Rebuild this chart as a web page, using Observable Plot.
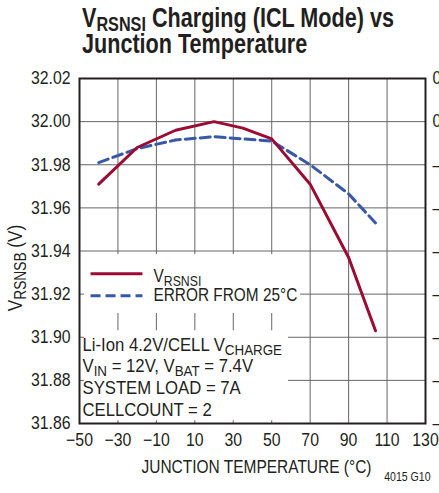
<!DOCTYPE html>
<html><head><meta charset="utf-8">
<script src="https://cdn.jsdelivr.net/npm/d3@7"></script>
<script src="https://cdn.jsdelivr.net/npm/@observablehq/plot@0.6"></script>
<style>
html,body{margin:0;padding:0;background:#fff;overflow:hidden;width:439px;height:493px}
#title{height:60px;box-sizing:border-box;padding:5px 0 0 82px;white-space:nowrap;overflow:hidden}
#title span{display:inline-block;font-family:"Liberation Sans",Arial,sans-serif;font-weight:bold;font-size:27px;line-height:26px;color:#231f20;transform:scaleX(0.8);transform-origin:0 0}
#title sub{font-size:75%;vertical-align:-0.22em;line-height:0}
#chart svg{display:block;overflow:hidden}
</style></head>
<body>
<div id="title"><span>V<sub>RSNSI</sub> Charging (ICL Mode) vs<br>Junction Temperature</span></div>
<div id="chart"></div>
<script>
const FONT = '"Liberation Sans",Arial,sans-serif';
const INK = "#231f20";
const NARROW = 0.88;
// data
const tempC = [-40, -20, 0, 20, 35, 50, 70, 90, 104];
const vRsnsi = [31.971, 31.988, 31.996, 32.000, 31.997, 31.992, 31.971, 31.937, 31.903];
const errorFrom25 = [31.981, 31.9875, 31.9915, 31.993, 31.992, 31.991, 31.980, 31.9665, 31.953];
const xTicks = [-50, -30, -10, 10, 30, 50, 70, 90, 110, 130];
const xGrid = [-30, -10, 10, 30, 50, 70, 90, 110];
const yTicks = [31.86, 31.88, 31.90, 31.92, 31.94, 31.96, 31.98, 32.00, 32.02];
const yGrid = [31.88, 31.90, 31.92, 31.94, 31.96, 31.98, 32.00];
const rightTickLabels = ["–0.35", "–0.30", "–0.25", "–0.20", "–0.15", "–0.10", "–0.05", "0", "0.05"];
const seriesNames = ["V_{RSNSI}", "ERROR FROM 25°C"];
const conditions = ["Li-Ion 4.2V/CELL V_{CHARGE}", "V_{IN} = 12V, V_{BAT} = 7.4V", "SYSTEM LOAD = 7A", "CELLCOUNT = 2"];

const RED = "#9b0b33", BLUE = "#3a58a8";
const rows = tempC.map((t, i) => ({t, v: vRsnsi[i], e: errorFrom25[i]}));

// white areas behind the legend and the condition text (data coords)
const masks = [
  {x1: -47.4, x2: 65, y1: 31.911, y2: 31.9383},
  {x1: -47.4, x2: 58.7, y1: 31.8613, y2: 31.903}
];

const plot = Plot.plot({
  width: 439, height: 433,
  marginLeft: 79, marginRight: 14, marginTop: 18, marginBottom: 70,
  style: {fontFamily: FONT, fontSize: "18px", color: INK, background: "white", overflow: "hidden"},
  x: {domain: [-50, 130]},
  y: {domain: [31.86, 32.02]},
  marks: [
    Plot.ruleX(xGrid, {stroke: "#666", strokeWidth: 1}),
    Plot.ruleY(yGrid, {stroke: "#666", strokeWidth: 1}),
    Plot.rect(masks, {x1: "x1", x2: "x2", y1: "y1", y2: "y2", fill: "white"}),
    Plot.line(rows, {x: "t", y: "e", stroke: BLUE, strokeWidth: 3, strokeDasharray: "10,5", strokeLinejoin: "round"}),
    Plot.line(rows, {x: "t", y: "v", stroke: RED, strokeWidth: 3, strokeLinejoin: "round"}),
    Plot.frame({stroke: INK, strokeWidth: 2}),
    Plot.axisX(xTicks, {tickSize: 0, tickPadding: 10, label: null, fontSize: 18}),
    Plot.axisY(yTicks, {anchor: "left", tickSize: 0, tickPadding: 9, tickFormat: d => d.toFixed(2), label: null, fontSize: 18}),
    Plot.axisY(yTicks, {anchor: "right", tickSize: 0, tickPadding: 7, tickFormat: d => rightTickLabels[yTicks.indexOf(d)], label: null, textAnchor: "start", fontSize: 18}),
    // legend swatches
    Plot.ruleY([31.9295], {x1: -44, x2: -17, stroke: RED, strokeWidth: 3}),
    Plot.ruleY([31.9193], {x1: -44, x2: -17, stroke: BLUE, strokeWidth: 3, strokeDasharray: "10,5"}),
    Plot.text([seriesNames[0]], {frameAnchor: "top-left", dx: 74, dy: 198, text: d => d, textAnchor: "start", lineAnchor: "middle", fontSize: 17.5, fill: INK}),
    Plot.text([seriesNames[1]], {frameAnchor: "top-left", dx: 74, dy: 217, text: d => d, textAnchor: "start", lineAnchor: "middle", fontSize: 17.5, fill: INK}),
    ...conditions.map((c, i) => Plot.text([c], {frameAnchor: "top-left", dx: 3, dy: 272 + i * 21.7, text: d => d, textAnchor: "start", lineAnchor: "bottom", fontSize: 19, fill: INK})),
    Plot.text(["JUNCTION TEMPERATURE (°C)"], {frameAnchor: "bottom", dx: 4, dy: 44, text: d => d, textAnchor: "middle", lineAnchor: "middle", fontSize: 17.6, fill: INK}),
    Plot.text(["4015 G10"], {frameAnchor: "bottom-right", dx: 5, dy: 54, text: d => d, textAnchor: "end", lineAnchor: "middle", fontSize: 12, fill: INK}),
    Plot.text(["V_{RSNSB} (V)"], {frameAnchor: "left", dx: -64, dy: 17, rotate: -90, text: d => d, textAnchor: "middle", lineAnchor: "middle", fontSize: 19.5, fill: INK})
  ]
});

// turn _{...} markers into subscript tspans
d3.select(plot).selectAll("text").each(function() {
  const el = this;
  const t = el.textContent;
  if (!t.includes("_{")) return;
  const fs = parseFloat(el.getAttribute("font-size")) || parseFloat(el.parentNode.getAttribute("font-size")) || 17.5;
  const shift = fs * 0.22;
  const parts = t.split(/(_\{[^}]*\})/).filter(p => p);
  el.textContent = "";
  let down = false;
  for (const p of parts) {
    const ts = document.createElementNS("http://www.w3.org/2000/svg", "tspan");
    if (p.startsWith("_{")) {
      ts.textContent = p.slice(2, -1);
      ts.setAttribute("font-size", fs * 0.8);
      ts.setAttribute("dy", shift);
      down = true;
    } else {
      ts.textContent = p;
      if (down) { ts.setAttribute("dy", -shift); down = false; }
    }
    el.appendChild(ts);
  }
});

// condensed lettering (the reference uses a narrow face)
d3.select(plot).selectAll("text").each(function() {
  const tr = this.getAttribute("transform") || "";
  const x = this.getAttribute("x");
  if (x != null) this.setAttribute("x", (+x) / NARROW);
  this.setAttribute("transform", tr + ` scale(${NARROW},1)`);
});

document.getElementById("chart").appendChild(plot);
</script>
</body></html>
